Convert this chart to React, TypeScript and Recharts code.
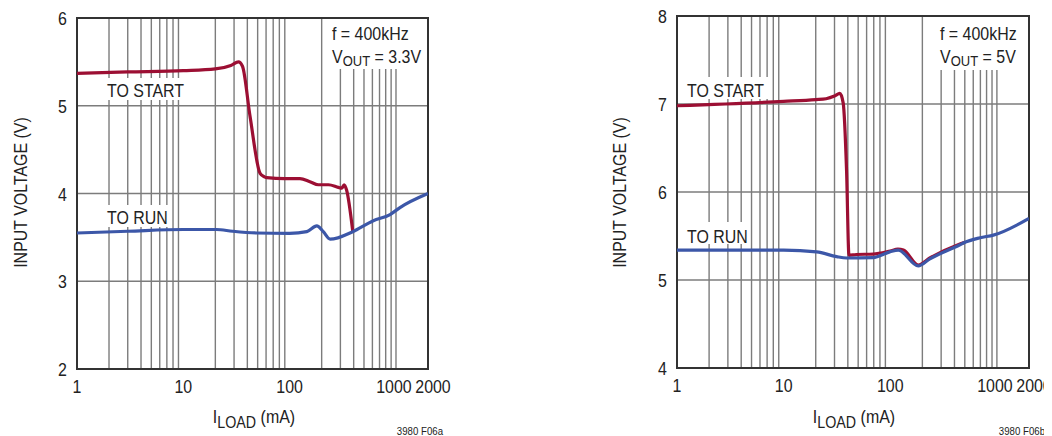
import { LineChart, Line, XAxis, YAxis, CartesianGrid, ReferenceArea } from 'recharts';

const FONT = "'Liberation Sans', Arial, sans-serif";
const SQUEEZE = 0.84; // narrow Helvetica look
const RED = '#9c0f33';
const BLUE = '#3c57a8';
const GRID = '#7c7c7c';
const INK = '#222';

const loadTicks = [1, 10, 100, 1000, 2000];
const gridLoads = [2, 3, 4, 5, 6, 7, 8, 9, 20, 30, 40, 50, 60, 70, 80, 90, 200, 300, 400, 500, 600, 700, 800, 900, 1000];

// panel a: VOUT = 3.3V
const startLoadA = [1, 3, 10, 20, 28, 33, 36, 42.4, 52.7, 58, 61, 90, 125, 155, 186, 232, 287, 310, 325, 343, 392];
const startVinA = [5.37, 5.385, 5.4, 5.42, 5.46, 5.5, 5.45, 4.88, 4.23, 4.19, 4.18, 4.17, 4.17, 4.135, 4.1, 4.1, 4.07, 4.06, 4.1, 4.04, 3.57];
const runLoadA = [1, 3, 10, 20.5, 29, 49, 100, 145, 180, 207, 240, 392, 612, 880, 1090, 2000];
const runVinA = [3.55, 3.57, 3.59, 3.59, 3.57, 3.55, 3.545, 3.565, 3.63, 3.565, 3.48, 3.565, 3.69, 3.76, 3.84, 4.0];

// panel b: VOUT = 5V
const startLoadB = [1, 10, 20, 25, 30, 33.7, 36.2, 38.9, 41, 48, 69, 100, 118, 133, 183, 235, 450, 500];
const startVinB = [6.98, 7.03, 7.05, 7.06, 7.09, 7.12, 7.01, 6.25, 5.28, 5.29, 5.295, 5.33, 5.35, 5.34, 5.17, 5.25, 5.41, 5.43];
const runLoadB = [1, 10, 20.4, 31.4, 38.9, 69, 99, 119, 183, 235, 450, 485, 695, 927, 2000];
const runVinB = [5.34, 5.34, 5.32, 5.265, 5.25, 5.255, 5.32, 5.34, 5.16, 5.24, 5.4, 5.42, 5.48, 5.51, 5.7];

const toSeries = (xs: number[], ys: number[]) => xs.map((x, i) => ({ x, v: ys[i] }));

// text squeezed horizontally, (x, y) is the anchor point on the baseline
function NText(props: { x: number; y: number; size?: number; anchor?: 'start' | 'middle' | 'end'; rotate?: number; children: any }) {
  const { x, y, size = 19, anchor = 'start', rotate = 0, children } = props;
  return (
    <text
      transform={`translate(${x},${y}) rotate(${rotate}) scale(${SQUEEZE},1)`}
      textAnchor={anchor}
      fontSize={size}
      fontFamily={FONT}
      fill={INK}
    >
      {children}
    </text>
  );
}

const XTick = (props: any) => {
  const { x, y, payload } = props;
  const off = payload.value === 1000 ? -2 : payload.value === 2000 ? 5 : 0;
  return <NText x={x + off} y={y + 24} anchor="middle">{payload.value}</NText>;
};

const YTick = (props: any) => {
  const { x, y, payload } = props;
  return <NText x={x - 10} y={y + 7} anchor="end">{payload.value}</NText>;
};

interface PanelProps {
  left: number;
  width: number;
  margin: { top: number; right: number; left: number; bottom: number };
  yWidth: number;
  xHeight: number;
  yDomain: [number, number];
  yTicks: number[];
  start: { x: number; v: number }[];
  run: { x: number; v: number }[];
}

function Panel(p: PanelProps) {
  return (
    <div style={{ position: 'absolute', left: p.left, top: 0 }}>
      <LineChart width={p.width} height={436} margin={p.margin}>
        <CartesianGrid stroke={GRID} strokeWidth={1.4} verticalValues={gridLoads} horizontalValues={p.yTicks} />
        <XAxis
          type="number"
          dataKey="x"
          scale="log"
          domain={[1, 2000]}
          ticks={loadTicks}
          allowDataOverflow
          axisLine={false}
          tickLine={false}
          tickSize={0}
          tickMargin={0}
          height={p.xHeight}
          tick={<XTick />}
          interval={0}
        />
        <YAxis
          type="number"
          dataKey="v"
          domain={p.yDomain}
          ticks={p.yTicks}
          allowDataOverflow
          axisLine={false}
          tickLine={false}
          tickSize={0}
          tickMargin={0}
          width={p.yWidth}
          tick={<YTick />}
          interval={0}
        />
        <ReferenceArea
          x1={1}
          x2={2000}
          y1={p.yDomain[0]}
          y2={p.yDomain[1]}
          fill="none"
          fillOpacity={0}
          stroke="#333"
          strokeWidth={2}
        />
        <Line data={p.start} dataKey="v" type="monotone" stroke={RED} strokeWidth={3.2} dot={false} isAnimationActive={false} />
        <Line data={p.run} dataKey="v" type="monotone" stroke={BLUE} strokeWidth={3.2} dot={false} isAnimationActive={false} />
      </LineChart>
    </div>
  );
}

function AxisTitles({ yx, cx, id, idx }: { yx: number; cx: number; id: string; idx: number }) {
  return (
    <>
      <NText x={yx} y={192.5} anchor="middle" rotate={-90}>INPUT VOLTAGE (V)</NText>
      <NText x={cx} y={423} anchor="middle">
        I<tspan fontSize={17} dy={5}>LOAD</tspan><tspan dy={-5}> (mA)</tspan>
      </NText>
      <NText x={idx} y={435} size={11.5} anchor="end">{id}</NText>
    </>
  );
}

function Labels() {
  return (
    <svg width={1052} height={436} style={{ position: 'absolute', left: 0, top: 0, pointerEvents: 'none' }}>
      {/* panel a */}
      <AxisTitles yx={27} cx={254} id="3980 F06a" idx={443} />
      <rect x={103} y={78} width={82} height={22} fill="#fff" />
      <NText x={107} y={97}>TO START</NText>
      <rect x={103} y={205} width={66} height={22} fill="#fff" />
      <NText x={107} y={224}>TO RUN</NText>
      <rect x={325} y={19} width={101} height={50} fill="#fff" />
      <NText x={332} y={40}>f = 400kHz</NText>
      <NText x={332} y={63}>
        V<tspan fontSize={15.5} dy={3}>OUT</tspan><tspan dy={-3}> = 3.3V</tspan>
      </NText>

      {/* panel b */}
      <AxisTitles yx={626} cx={854} id="3980 F06b" idx={1045} />
      <rect x={680} y={77} width={90} height={22} fill="#fff" />
      <NText x={687} y={97}>TO START</NText>
      <rect x={680} y={222} width={70} height={22} fill="#fff" />
      <NText x={687} y={243}>TO RUN</NText>
      <rect x={935} y={17} width={92} height={53} fill="#fff" />
      <NText x={940} y={40}>f = 400kHz</NText>
      <NText x={940} y={63}>
        V<tspan fontSize={15.5} dy={3}>OUT</tspan><tspan dy={-3}> = 5V</tspan>
      </NText>
    </svg>
  );
}

export default function App() {
  return (
    <div style={{ position: 'relative', width: 1052, height: 436, marginLeft: -8, marginTop: -8, background: '#fff' }}>
      <Panel
        left={0}
        width={480}
        margin={{ top: 18, right: 52, left: 0, bottom: 0 }}
        yWidth={77}
        xHeight={67}
        yDomain={[2, 6]}
        yTicks={[2, 3, 4, 5, 6]}
        start={toSeries(startLoadA, startVinA)}
        run={toSeries(runLoadA, runVinA)}
      />
      <Panel
        left={560}
        width={492}
        margin={{ top: 16, right: 23, left: 0, bottom: 0 }}
        yWidth={117}
        xHeight={68}
        yDomain={[4, 8]}
        yTicks={[4, 5, 6, 7, 8]}
        start={toSeries(startLoadB, startVinB)}
        run={toSeries(runLoadB, runVinB)}
      />
      <Labels />
    </div>
  );
}
